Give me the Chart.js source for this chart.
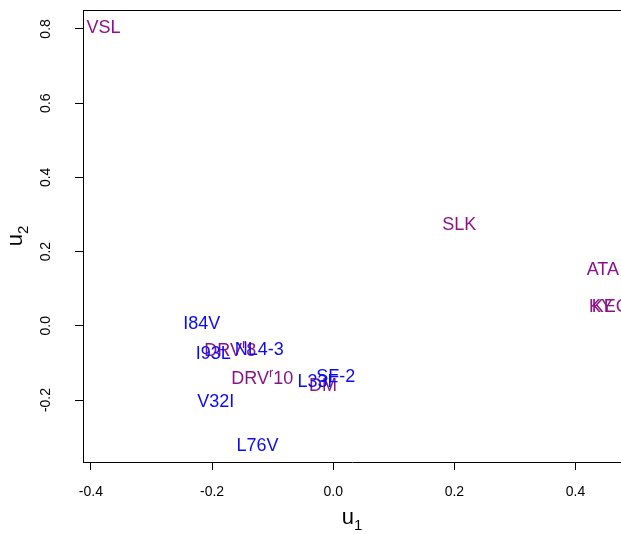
<!DOCTYPE html>
<html>
<head>
<meta charset="utf-8">
<script src="https://cdn.jsdelivr.net/npm/chart.js@4"></script>
<style>
  body { margin: 0; background: #fff; }
  #wrap { width: 621px; height: 534px; }
</style>
</head>
<body>
<div id="wrap"><canvas id="myChart" width="621" height="534"></canvas></div>
<script>
// tick labels
const xTicks = [-0.4, -0.2, 0.0, 0.2, 0.4];
const yTicks = [-0.2, 0.0, 0.2, 0.4, 0.6, 0.8];

// purple labels (text {..} = superscript)
const purpleLabels = ['VSL', 'SLK', 'ATA', 'KY', 'KEG', 'DRV{r}8', 'DRV{r}10', 'DM'];
const purpleX = [-0.379, 0.208, 0.445, 0.442, 0.458, -0.170, -0.117, -0.017];
const purpleY = [0.802, 0.271, 0.150, 0.050, 0.050, -0.067, -0.144, -0.163];

// blue labels
const blueLabels = ['I84V', 'I93L', 'NL4-3', 'SF-2', 'L33F', 'V32I', 'L76V'];
const blueX = [-0.217, -0.198, -0.122, 0.004, -0.025, -0.194, -0.125];
const blueY = [0.004, -0.077, -0.066, -0.139, -0.152, -0.206, -0.325];

const FONT = '"Liberation Sans", Arial, Helvetica, sans-serif';

function toPoints(xs, ys) {
  return xs.map((x, i) => ({ x: x, y: ys[i] }));
}

// draw text centred at (x, y), with optional {superscript}
function drawLabel(ctx, text, x, y, size) {
  const m = text.match(/^(.*)\{(.*)\}(.*)$/);
  const big = size + 'px ' + FONT;
  const small = Math.round(size * 0.7) + 'px ' + FONT;
  ctx.textBaseline = 'middle';
  ctx.textAlign = 'left';
  if (!m) {
    ctx.font = big;
    const w = ctx.measureText(text).width;
    ctx.fillText(text, x - w / 2, y);
    return;
  }
  ctx.font = big;
  const w1 = ctx.measureText(m[1]).width;
  const w3 = ctx.measureText(m[3]).width;
  ctx.font = small;
  const w2 = ctx.measureText(m[2]).width;
  let left = x - (w1 + w2 + w3) / 2;
  ctx.font = big;
  ctx.fillText(m[1], left, y);
  ctx.font = small;
  ctx.fillText(m[2], left + w1, y - size * 0.35);
  ctx.font = big;
  ctx.fillText(m[3], left + w1 + w2, y);
}

const textLabels = {
  id: 'textLabels',
  afterDatasetsDraw(chart) {
    const ctx = chart.ctx;
    const a = chart.chartArea;
    const xs = chart.scales.x, ys = chart.scales.y;
    ctx.save();
    ctx.beginPath();
    ctx.rect(a.left, a.top, a.right - a.left, a.bottom - a.top);
    ctx.clip();
    chart.data.datasets.forEach(ds => {
      ctx.fillStyle = ds.textColor;
      ds.data.forEach((p, i) => {
        drawLabel(ctx, ds.labels[i], xs.getPixelForValue(p.x), ys.getPixelForValue(p.y), 18);
      });
    });
    ctx.restore();
  },
  afterDraw(chart) {
    const ctx = chart.ctx;
    const a = chart.chartArea;
    const ys = chart.scales.y;
    ctx.save();
    // top border of the box
    ctx.strokeStyle = '#000';
    ctx.lineWidth = 1;
    ctx.beginPath();
    ctx.moveTo(a.left, a.top + 0.5);
    ctx.lineTo(a.right, a.top + 0.5);
    ctx.stroke();

    // rotated y tick labels
    ctx.fillStyle = '#000';
    ctx.font = '14px ' + FONT;
    ctx.textAlign = 'center';
    ctx.textBaseline = 'middle';
    yTicks.forEach(v => {
      ctx.save();
      ctx.translate(46, ys.getPixelForValue(v));
      ctx.rotate(-Math.PI / 2);
      ctx.fillText(v.toFixed(1), 0, 0);
      ctx.restore();
    });

    // axis titles u1 / u2
    const cx = (a.left + a.right) / 2;
    ctx.textAlign = 'left';
    ctx.font = '22px ' + FONT;
    let wu = ctx.measureText('u').width;
    ctx.font = '15px ' + FONT;
    let ws = ctx.measureText('1').width;
    let lx = cx - (wu + ws) / 2;
    ctx.font = '22px ' + FONT;
    ctx.fillText('u', lx, 518);
    ctx.font = '15px ' + FONT;
    ctx.fillText('1', lx + wu, 526);

    const cy = (a.top + a.bottom) / 2;
    ctx.save();
    ctx.translate(16, cy);
    ctx.rotate(-Math.PI / 2);
    ctx.font = '22px ' + FONT;
    ctx.fillText('u', -(wu + ws) / 2, 0);
    ctx.font = '15px ' + FONT;
    ctx.fillText('2', -(wu + ws) / 2 + wu, 8);
    ctx.restore();

    ctx.restore();
  }
};

new Chart(document.getElementById('myChart'), {
  type: 'scatter',
  data: {
    datasets: [
      {
        data: toPoints(purpleX, purpleY),
        labels: purpleLabels,
        textColor: '#8b128b',
        pointRadius: 0
      },
      {
        data: toPoints(blueX, blueY),
        labels: blueLabels,
        textColor: '#0a0af5',
        pointRadius: 0
      }
    ]
  },
  options: {
    responsive: false,
    animation: false,
    devicePixelRatio: 1,
    layout: { padding: { top: 10, right: 0, left: 0, bottom: 0 } },
    plugins: {
      legend: { display: false },
      tooltip: { enabled: false }
    },
    scales: {
      x: {
        type: 'linear',
        min: -0.413,
        max: 0.475,
        afterBuildTicks: s => { s.ticks = xTicks.map(v => ({ value: v })); },
        afterFit: s => { s.height = 72; },
        grid: { drawOnChartArea: false, drawTicks: true, tickLength: 8, color: '#000' },
        border: { display: true, color: '#000', width: 1 },
        ticks: {
          color: '#000',
          padding: 14,
          maxRotation: 0,
          font: { size: 14, family: FONT },
          callback: v => v.toFixed(1)
        }
      },
      y: {
        type: 'linear',
        min: -0.367,
        max: 0.851,
        afterBuildTicks: s => { s.ticks = yTicks.map(v => ({ value: v })); },
        afterFit: s => { s.width = 83; },
        grid: { drawOnChartArea: false, drawTicks: true, tickLength: 8, color: '#000' },
        border: { display: true, color: '#000', width: 1 },
        ticks: { display: false }
      }
    }
  },
  plugins: [textLabels]
});
</script>
</body>
</html>
